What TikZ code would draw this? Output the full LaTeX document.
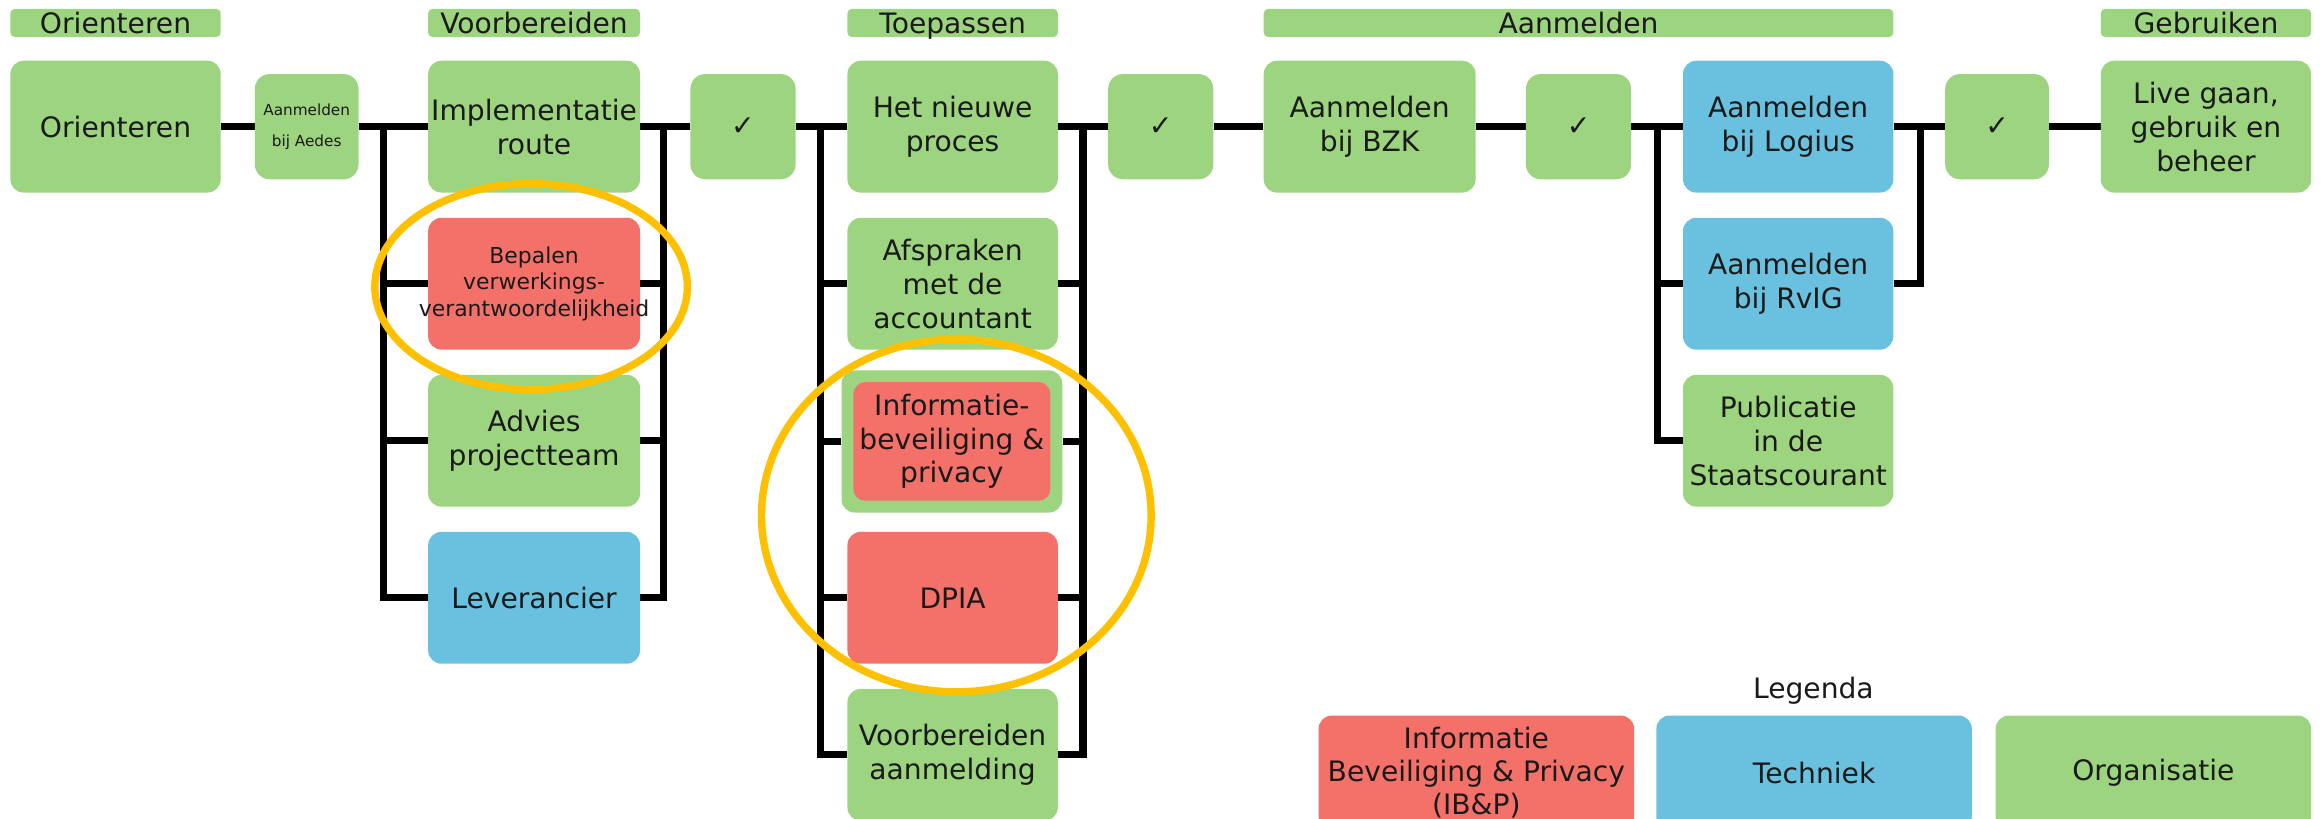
\documentclass[tikz,border=0pt]{standalone}
\usepackage{fontspec}
\setmainfont{DejaVu Sans}
\usetikzlibrary{backgrounds}
\definecolor{gr}{HTML}{9DD47F}
\definecolor{rd}{HTML}{F4716A}
\definecolor{bl}{HTML}{6AC1DF}
\definecolor{yl}{HTML}{FFC000}
\definecolor{tx}{HTML}{1A1A1A}
\begin{document}
\begin{tikzpicture}[x=1pt,y=-1pt,
  box/.style={rounded corners=9pt, minimum width=143pt, minimum height=89pt, inner sep=0pt, align=center, text=tx, font=\fontsize{19}{23}\selectfont},
  gbox/.style={box, fill=gr},
  rbox/.style={box, fill=rd},
  bbox/.style={box, fill=bl},
  chk/.style={gbox, minimum width=71pt, minimum height=71pt, rounded corners=10pt},
  hdr/.style={fill=gr, rounded corners=3pt, minimum height=19pt, inner sep=0pt, text height=14pt, text depth=0pt, text=tx, font=\fontsize{19}{23}\selectfont},
  conn/.style={line width=4.8pt, black},
  ring/.style={yl, line width=5pt}
]
\clip (0,0) rectangle (1568,552.8);
% headers
\node[hdr, minimum width=142pt] (h1) at (78,15.5) {Orienteren};
\node[hdr, minimum width=143pt] (h2) at (360.5,15.5) {Voorbereiden};
\node[hdr, minimum width=142pt] (h3) at (643,15.5) {Toepassen};
\node[hdr, minimum width=425pt] (h4) at (1065.5,15.5) {Aanmelden};
\node[hdr, minimum width=142pt] (h5) at (1489,15.5) {Gebruiken};
% main row
\node[gbox, minimum width=142pt] (ori) at (78,85.5) {Orienteren};
\node[chk, minimum width=70pt, font=\fontsize{10.3}{21}\selectfont] (aed) at (207,85.5) {Aanmelden\\bij Aedes};
\node[gbox] (impl) at (360.5,85.5) {Implementatie\\route};
\node[chk] (c1) at (501.5,85.5) {✓};
\node[gbox, minimum width=142pt] (proc) at (643,85.5) {Het nieuwe\\proces};
\node[chk] (c2) at (783.5,85.5) {✓};
\node[gbox] (bzk) at (924.5,85.5) {Aanmelden\\bij BZK};
\node[chk] (c3) at (1065.5,85.5) {✓};
\node[bbox, minimum width=142pt] (log) at (1207,85.5) {Aanmelden\\bij Logius};
\node[chk, minimum width=70pt] (c4) at (1348,85.5) {✓};
\node[gbox, minimum width=142pt] (live) at (1489,85.5) {Live gaan,\\gebruik en\\beheer};
% column Voorbereiden
\node[rbox, font=\fontsize{14.8}{18}\selectfont] (bep) at (360.5,191.5) {Bepalen\\verwerkings-\\\makebox[0pt]{verantwoordelijkheid}};
\node[gbox] (adv) at (360.5,297.5) {Advies\\projectteam};
\node[bbox] (lev) at (360.5,403.5) {Leverancier};
% column Toepassen
\node[gbox, minimum width=142pt] (afs) at (643,191.5) {Afspraken\\met de\\accountant};
\node[gbox, minimum width=149pt, minimum height=96pt] (ibo) at (642.5,298) {};
\node[rbox, minimum width=133pt, minimum height=80pt, rounded corners=8pt, font=\fontsize{19}{22.5}\selectfont] (ibi) at (642.5,298) {Informatie-\\beveiliging \&\\privacy};
\node[rbox, minimum width=142pt] (dpia) at (643,403.5) {DPIA};
\node[gbox, minimum width=142pt] (vba) at (643,509.5) {Voorbereiden\\aanmelding};
% column Aanmelden
\node[bbox, minimum width=142pt] (rvig) at (1207,191.5) {Aanmelden\\bij RvIG};
\node[gbox, minimum width=142pt] (pub) at (1207,297.5) {Publicatie\\in de\\Staatscourant};
% legend
\node[text=tx, font=\fontsize{19}{23}\selectfont] (leg) at (1224,466) {Legenda};
\node[rbox, minimum width=213pt, minimum height=77pt, font=\fontsize{19}{22.5}\selectfont] (l1) at (996.5,521.5) {Informatie\\Beveiliging \& Privacy\\(IB\&P)};
\node[bbox, minimum width=213pt, minimum height=77pt] (l2) at (1224.5,521.5) {Techniek};
\node[gbox, minimum width=213pt, minimum height=77pt] (l3) at (1453.5,521.5) {Organisatie};
% connectors
\coordinate (L2) at (259,85.5);  \coordinate (R2) at (448,85.5);
\coordinate (L3) at (554,85.5);  \coordinate (R3) at (731,85.5);
\coordinate (L4) at (1119,85.5); \coordinate (R4) at (1296,85.5);
\begin{scope}[on background layer]
\draw[conn] (ori) -- (aed);
\draw[conn] (aed) -- (impl);
\draw[conn] (impl) -- (c1);
\draw[conn] (c1) -- (proc);
\draw[conn] (proc) -- (c2);
\draw[conn] (c2) -- (bzk);
\draw[conn] (bzk) -- (c3);
\draw[conn] (c3) -- (log);
\draw[conn] (log) -- (c4);
\draw[conn] (c4) -- (live);
\draw[conn] (L2) |- (bep.west);
\draw[conn] (L2) |- (adv.west);
\draw[conn] (L2) |- (lev.west);
\draw[conn] (R2) |- (bep.east);
\draw[conn] (R2) |- (adv.east);
\draw[conn] (R2) |- (lev.east);
\draw[conn] (L3) |- (afs.west);
\draw[conn] (L3) |- (ibo.west);
\draw[conn] (L3) |- (dpia.west);
\draw[conn] (L3) |- (vba.west);
\draw[conn] (R3) |- (afs.east);
\draw[conn] (R3) |- (ibo.east);
\draw[conn] (R3) |- (dpia.east);
\draw[conn] (R3) |- (vba.east);
\draw[conn] (L4) |- (rvig.west);
\draw[conn] (L4) |- (pub.west);
\draw[conn] (R4) |- (rvig.east);
\end{scope}
% highlight rings
\draw[ring] (358.5,193.5) ellipse [x radius=105.5pt, y radius=69.5pt];
\draw[ring] (645.5,348) ellipse [x radius=131.5pt, y radius=119pt];
\end{tikzpicture}
\end{document}
